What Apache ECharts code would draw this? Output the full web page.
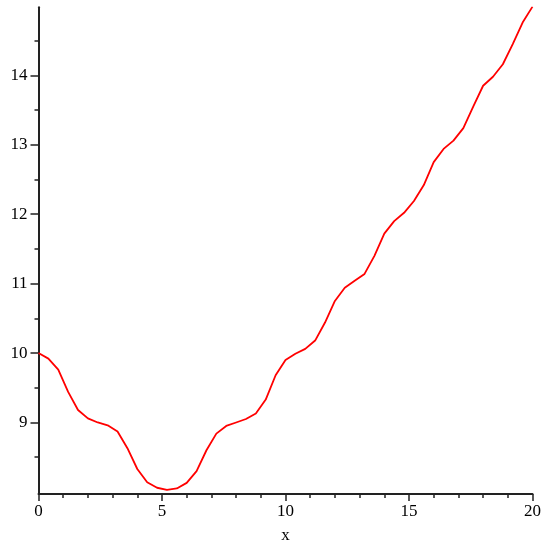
<!DOCTYPE html>
<html>
<head>
<meta charset="utf-8">
<script src="https://cdn.jsdelivr.net/npm/echarts@6/dist/echarts.min.js"></script>
<style>html,body{margin:0;padding:0;background:#fff;}#c{width:544px;height:542px;}</style>
</head>
<body>
<div id="c"></div>
<script>
var xValues = [0,0.4,0.8,1.2,1.6,2.0,2.4,2.8,3.2,3.6,4.0,4.4,4.8,5.2,5.6,6.0,6.4,6.8,7.2,7.6,8.0,8.4,8.8,9.2,9.6,10.0,10.4,10.8,11.2,11.6,12.0,12.4,12.8,13.2,13.6,14.0,14.4,14.8,15.2,15.6,16.0,16.4,16.8,17.2,17.6,18.0,18.4,18.8,19.2,19.6,20.0];
var yValues = [10.00,9.92,9.76,9.44,9.18,9.06,9.00,8.96,8.87,8.63,8.33,8.14,8.06,8.03,8.05,8.13,8.30,8.60,8.84,8.95,9.00,9.05,9.13,9.33,9.68,9.90,9.99,10.06,10.18,10.44,10.75,10.94,11.04,11.14,11.40,11.72,11.90,12.02,12.19,12.42,12.75,12.94,13.06,13.24,13.55,13.85,13.98,14.16,14.45,14.76,14.99];
var xTickLabels = [0,5,10,15,20];
var yTickLabels = [9,10,11,12,13,14];
var yMinorTicks = [8.5,9.5,10.5,11.5,12.5,13.5,14.5];
var xMinorTicks = [1,2,3,4,6,7,8,9,11,12,13,14,16,17,18,19];

var data = xValues.map(function(x,i){return [x,yValues[i]];});
var font = '"Liberation Serif", "DejaVu Serif", serif';
var axisColor = '#222';
var chart = echarts.init(document.getElementById('c'), null, {renderer:'canvas'});
chart.setOption({
  animation:false,
  backgroundColor:'#fff',
  grid:{left:38.5, right:11.5, top:7.3, bottom:48, containLabel:false, outerBoundsMode:'none'},
  xAxis:[{
    type:'value', min:0, max:20, interval:1,
    name:'x', nameLocation:'middle', nameGap:33,
    nameTextStyle:{color:'#000', fontFamily:font, fontSize:17},
    axisLine:{show:true, onZero:false, lineStyle:{color:axisColor, width:2}},
    axisTick:{show:true, length:7, customValues:xTickLabels, lineStyle:{color:axisColor, width:1.5}},
    axisLabel:{show:true, customValues:xTickLabels, margin:9, color:'#000', fontFamily:font, fontSize:17},
    splitLine:{show:false}
  },{
    type:'value', min:0, max:20, interval:1, position:'bottom',
    axisLine:{show:false},
    axisTick:{show:true, length:4, customValues:xMinorTicks, lineStyle:{color:axisColor, width:1.5}},
    axisLabel:{show:false},
    splitLine:{show:false}
  }],
  yAxis:[{
    type:'value', min:7.97, max:14.98,
    axisLine:{show:true, onZero:false, lineStyle:{color:axisColor, width:2}},
    axisTick:{show:true, length:8, customValues:yTickLabels, lineStyle:{color:axisColor, width:1.5}},
    axisLabel:{show:true, customValues:yTickLabels, margin:11, color:'#000', fontFamily:font, fontSize:17},
    splitLine:{show:false}
  },{
    type:'value', min:7.97, max:14.98, position:'left',
    axisLine:{show:false},
    axisTick:{show:true, length:4, customValues:yMinorTicks, lineStyle:{color:axisColor, width:1.5}},
    axisLabel:{show:false},
    splitLine:{show:false}
  }],
  series:[{
    type:'line', data:data, xAxisIndex:0, yAxisIndex:0,
    showSymbol:false, smooth:false,
    lineStyle:{color:'#ff0000', width:1.8},
    itemStyle:{color:'#ff0000'}
  }]
});
</script>
</body>
</html>
